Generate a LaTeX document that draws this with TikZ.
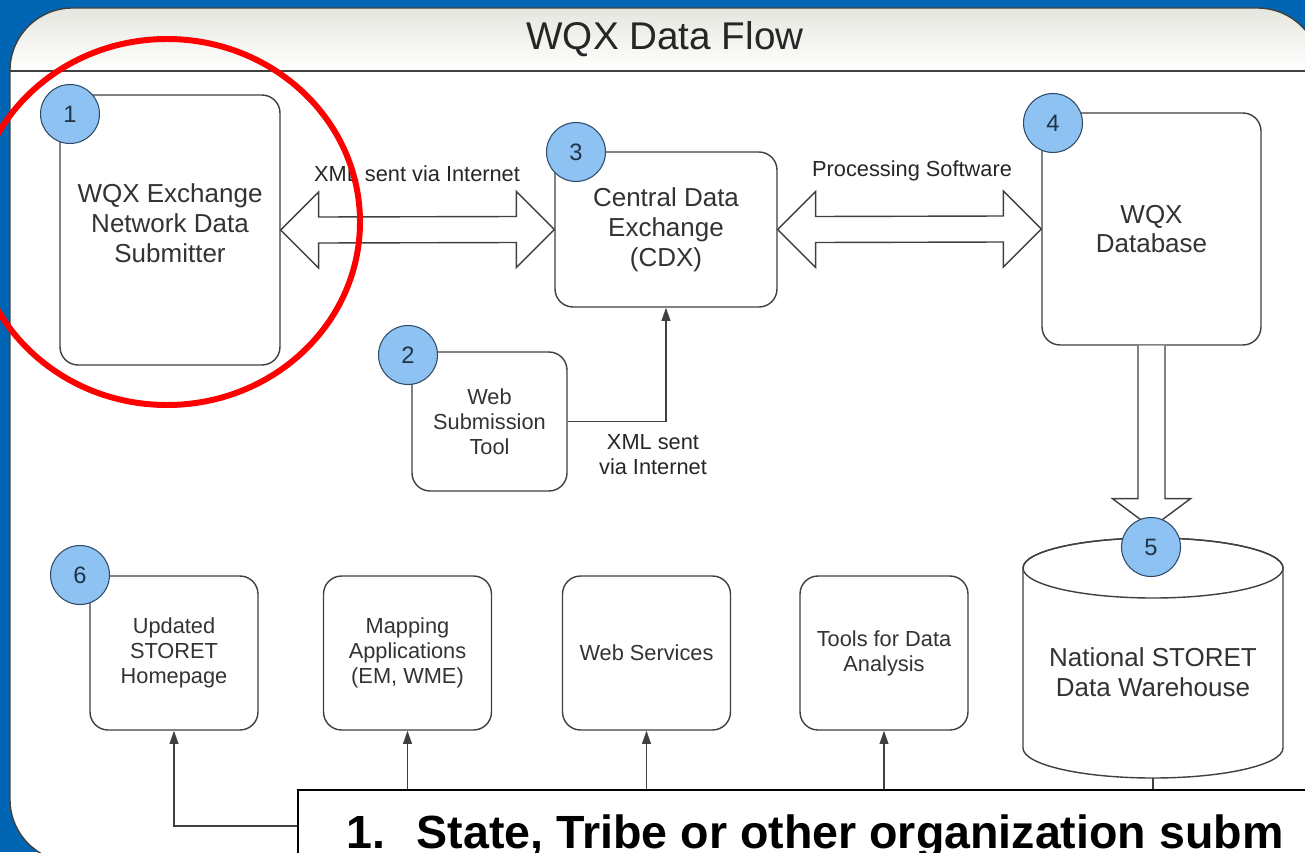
\documentclass[tikz,border=0pt]{standalone}
\usepackage{fontspec}
\setmainfont{Liberation Sans}
\usetikzlibrary{arrows.meta,calc}
\definecolor{frameblue}{HTML}{0066B3}
\definecolor{badgeblue}{HTML}{8EC2F2}
\definecolor{badgeline}{HTML}{2E4A66}
\definecolor{boxline}{HTML}{404040}
\definecolor{titlegray}{HTML}{E6E6DF}
\begin{document}
\begin{tikzpicture}[x=0.02cm, y=0.02cm,
    wqxbox/.style={draw=boxline, line width=0.8pt, fill=white, rounded corners=0.36cm, align=center, text=black!80, font=\fontsize{14.8}{17}\selectfont},
    wqxsmall/.style={wqxbox, minimum width=3.36cm, minimum height=3.08cm, font=\fontsize{12.4}{14.3}\selectfont},
    numbadge/.style={circle, draw=badgeline, line width=0.6pt, fill=badgeblue, minimum size=1.18cm, text=badgeline!70!black, font=\fontsize{13.5}{14}\selectfont},
    flowtext/.style={font=\fontsize{12.4}{14.3}\selectfont, text=black!85, align=center},
    flowline/.style={draw=boxline, line width=0.8pt, -{Triangle[length=7.5pt,width=5pt]}},
    fatarrow/.style={draw=boxline, line width=0.8pt, fill=white, line join=miter}]
                \tikzstyle{every node}+=[inner sep=0pt]
                \useasboundingbox (0,0) rectangle (1305,-852);
                \fill[frameblue] (0,0) rectangle (1305,-852);
                \begin{scope}
                \clip[rounded corners=1.25cm] (10,-8) rectangle (1320,-862);
                \fill[white] (10,-8) rectangle (1320,-862);
                \fill[top color=titlegray, bottom color=white] (10,-8) rectangle (1320,-71);
                \end{scope}
                \draw[draw=black!75, line width=0.8pt, rounded corners=1.25cm] (10,-8) rectangle (1320,-862);
                \draw[draw=black!75, line width=0.8pt] (10,-71) -- (1320,-71);
                \node[font=\fontsize{22}{26}\selectfont, text=black!85] (title) at (665,-39) {WQX Data Flow};
                % top row
                \node[wqxbox, minimum width=4.4cm, minimum height=5.4cm] (sub) at (170,-230) {};
                \node[wqxbox, draw=none, fill=none] (subtext) at (170,-223) {WQX Exchange\\Network Data\\Submitter};
                \node[wqxbox, minimum width=4.44cm, minimum height=3.1cm] (cdx) at (666,-229.5) {Central Data\\Exchange\\(CDX)};
                \node[wqxbox, minimum width=3.1cm, minimum height=2.78cm, font=\fontsize{12.4}{14.3}\selectfont] (web) at (489.5,-421.5) {Web\\Submission\\Tool};
                \node[wqxbox, minimum width=4.38cm, minimum height=4.64cm] (db) at (1151.5,-229) {WQX\\Database};
                \draw[fatarrow] (sub.east) -- ++(38,38) -- ++(0,-25) -- ($(cdx.west)+(-38,13)$) -- ++(0,25) -- (cdx.west) -- ++(-38,-38) -- ++(0,25) -- ($(sub.east)+(38,-13)$) -- ++(0,-25) -- cycle;
                \draw[fatarrow] (cdx.east) -- ++(38,38) -- ++(0,-25) -- ($(db.west)+(-38,13)$) -- ++(0,25) -- (db.west) -- ++(-38,-38) -- ++(0,25) -- ($(cdx.east)+(38,-13)$) -- ++(0,-25) -- cycle;
                \node[flowtext] (xmltop) at (417,-174) {XML sent via Internet};
                \node[flowtext] (procsw) at (912,-171) {Processing Software};
                \draw[flowline] (web.east) -| (cdx.south);
                \node[flowtext] (xmlweb) at (653,-455) {XML sent\\via Internet};
                % warehouse
                \draw[fatarrow] ($(db.south)+(-13.5,0)$) -- ++(0,-153) -- ++(-25.5,0) -- ($(db.south)+(0,-182)$) -- ($(db.south)+(39,-153)$) -- ++(-25.5,0) -- ($(db.south)+(13.5,0)$);
                \draw[draw=boxline, line width=0.8pt, fill=white] (1023,-568) -- (1023,-748) arc[start angle=180, end angle=360, x radius=130, y radius=30] -- (1283,-568) arc[start angle=0, end angle=180, x radius=130, y radius=30] -- cycle;
                \draw[draw=boxline, line width=0.8pt] (1153,-568) ellipse [x radius=130, y radius=30];
                \node[wqxbox, draw=none, fill=none, rounded corners=0pt] (wh) at (1153,-672) {National STORET\\Data Warehouse};
                \coordinate (whbot) at (1153,-778);
                % bottom row
                \node[wqxsmall] (upd) at (174,-653) {Updated\\STORET\\Homepage};
                \node[wqxsmall] (map) at (407.5,-653) {Mapping\\Applications\\(EM, WME)};
                \node[wqxsmall] (ws) at (646.5,-653) {Web Services};
                \node[wqxsmall] (tools) at (884,-653) {Tools for Data\\Analysis};
                \coordinate (hub) at (1153,-826);
                \draw[draw=boxline, line width=0.8pt] (whbot) -- (hub);
                \draw[flowline] (hub) -| (upd.south);
                \foreach \n in {map,ws,tools}
                    \draw[flowline] (hub -| \n.south) -- (\n.south);
                % badges
                \node[numbadge] (b1) at (70,-114) {1};
                \node[numbadge] (b2) at (408,-355) {2};
                \node[numbadge] (b3) at (576,-152) {3};
                \node[numbadge] (b4) at (1053,-123) {4};
                \node[numbadge] (b5) at (1151,-547) {5};
                \node[numbadge] (b6) at (80,-575) {6};
                % callout
                \draw[fill=white, draw=black, line width=1.4pt] (298,-790) rectangle (1340,-900);
                \node[anchor=base west, font=\fontsize{26.5}{30}\selectfont\bfseries] (note) at (346,-848) {1.\hspace{18pt}State, Tribe or other organization subm};
                \draw[draw=red, line width=3.4pt] (167,-222) ellipse [x radius=193, y radius=183];
            \end{tikzpicture}
\end{document}
